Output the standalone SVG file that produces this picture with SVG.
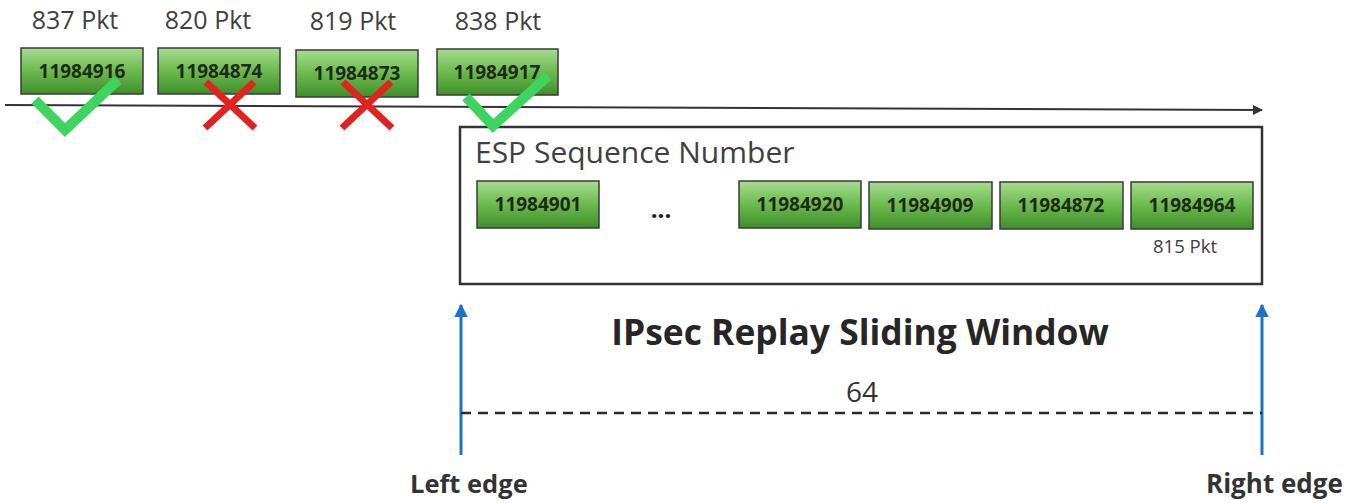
<svg xmlns="http://www.w3.org/2000/svg" width="1356" height="503" viewBox="0 0 1356 503">
<style>
.lbl{font-family:"Open Sans","Liberation Sans",sans-serif;font-size:25px;fill:#404040;text-anchor:middle}
.num{font-family:"Open Sans","Liberation Sans",sans-serif;font-size:19px;font-weight:700;fill:#1e2a1a;text-anchor:middle}
.pkt{fill:url(#g);stroke:#3a3a3a;stroke-width:1.5}
.ok{fill:none;stroke:#3fd460;stroke-width:10;stroke-linecap:butt;stroke-linejoin:miter}
.no{fill:none;stroke:#e0231e;stroke-width:7}
.edge{font-family:"Open Sans","Liberation Sans",sans-serif;font-size:25.5px;font-weight:700;fill:#333}
</style>
<defs>
<linearGradient id="g" x1="0" y1="0" x2="0" y2="1">
<stop offset="0" stop-color="#a6dc90"/>
<stop offset="0.5" stop-color="#6cba4e"/>
<stop offset="1" stop-color="#3f8e2b"/>
</linearGradient>
<marker id="ah" viewBox="0 0 10 10" refX="9" refY="5" markerWidth="5" markerHeight="5" orient="auto" markerUnits="strokeWidth">
<path d="M0,0 L10,5 L0,10 z" fill="#333"/>
</marker>
<marker id="bh" viewBox="0 0 10 10" refX="9" refY="5" markerWidth="4.5" markerHeight="4.5" orient="auto" markerUnits="strokeWidth">
<path d="M0,0 L10,5 L0,10 z" fill="#1a73c9"/>
</marker>
</defs>
<rect width="1356" height="503" fill="#fff"/>
<g id="connectors">
<line x1="5" y1="105" x2="1262" y2="110" stroke="#333" stroke-width="2" marker-end="url(#ah)"/>
<line x1="461" y1="455" x2="461" y2="305" stroke="#1a73c9" stroke-width="3" marker-end="url(#bh)"/>
<line x1="1262" y1="455" x2="1262" y2="305" stroke="#1a73c9" stroke-width="3" marker-end="url(#bh)"/>
<line x1="461" y1="413" x2="1262" y2="413" stroke="#2a2a2a" stroke-width="2.5" stroke-dasharray="10,7"/>
</g>
<g id="window">
<rect x="460" y="127" width="802" height="157" fill="none" stroke="#333" stroke-width="2.5"/>
<text x="475" y="163" style="font-family:'Open Sans','Liberation Sans',sans-serif;font-size:30px;fill:#404040">ESP Sequence Number</text>
</g>
<g id="p837">
<text class="lbl" x="75" y="29">837 Pkt</text>
<rect class="pkt" x="21" y="48" width="122" height="46"/>
<text class="num" x="82" y="78">11984916</text>
</g>
<g id="p820">
<text class="lbl" x="208" y="29">820 Pkt</text>
<rect class="pkt" x="158" y="48" width="122" height="46"/>
<text class="num" x="219" y="78">11984874</text>
</g>
<g id="p819">
<text class="lbl" x="353" y="30">819 Pkt</text>
<rect class="pkt" x="296" y="50" width="122" height="47"/>
<text class="num" x="357" y="80">11984873</text>
</g>
<g id="p838">
<text class="lbl" x="498" y="30">838 Pkt</text>
<rect class="pkt" x="437" y="49" width="121" height="46"/>
<text class="num" x="497" y="79">11984917</text>
</g>
<g id="marks">
<polyline class="ok" points="35,100 65,130 118,80"/>
<polyline class="ok" points="466,97 493,126 548,76"/>
<path class="no" d="M206,82 L255,128 M254,82 L205,128"/>
<path class="no" d="M343,82 L392,128 M391,82 L342,128"/>
</g>
<g id="s901">
<rect class="pkt" x="477" y="181" width="122" height="47"/>
<text class="num" x="538" y="211">11984901</text>
</g>
<g id="dots">
<text x="661" y="218" style="font-family:'Open Sans','Liberation Sans',sans-serif;font-size:24px;font-weight:700;fill:#222;text-anchor:middle">...</text>
</g>
<g id="s920">
<rect class="pkt" x="739" y="181" width="122" height="47"/>
<text class="num" x="800" y="211">11984920</text>
</g>
<g id="s909">
<rect class="pkt" x="869" y="182" width="123" height="47"/>
<text class="num" x="930" y="212">11984909</text>
</g>
<g id="s872">
<rect class="pkt" x="1000" y="182" width="123" height="47"/>
<text class="num" x="1061" y="212">11984872</text>
</g>
<g id="s964">
<rect class="pkt" x="1131" y="182" width="122" height="47"/>
<text class="num" x="1192" y="212">11984964</text>
<text x="1185" y="253" style="font-family:'Open Sans','Liberation Sans',sans-serif;font-size:18.5px;fill:#404040;text-anchor:middle">815 Pkt</text>
</g>
<g id="title">
<text x="860" y="345" style="font-family:'Open Sans','Liberation Sans',sans-serif;font-size:35.4px;font-weight:700;fill:#262626;text-anchor:middle">IPsec Replay Sliding Window</text>
<text x="862" y="402" style="font-family:'Open Sans','Liberation Sans',sans-serif;font-size:28px;fill:#333;text-anchor:middle">64</text>
</g>
<g id="left-edge">
<text class="edge" x="410" y="493">Left edge</text>
</g>
<g id="right-edge">
<text class="edge" x="1206" y="493" style="font-size:26px">Right edge</text>
</g>
</svg>
